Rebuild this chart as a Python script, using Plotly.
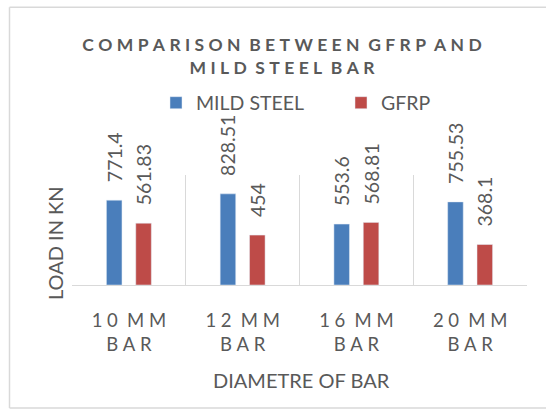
import plotly.graph_objects as go

# Load at failure (kN) for each bar diameter
categories = ["10 MM BAR", "12 MM BAR", "16 MM BAR", "20 MM BAR"]
mild_steel = [771.4, 828.51, 553.6, 755.53]
gfrp = [561.83, 454, 568.81, 368.1]
tick_lines = [("10 MM", "BAR"), ("12 MM", "BAR"), ("16 MM", "BAR"), ("20 MM", "BAR")]

title_lines = ["COMPARISON BETWEEN GFRP AND", "MILD STEEL BAR"]
x_title = "DIAMETRE OF BAR"
y_title = "LOAD IN KN"

FONT = "Lato"
GREY = "#595959"
BLUE = "#4A7EBB"
RED = "#BE4B48"
FRAME = "#D9D9D9"

W, H = 546, 410
ML, MR, MT, MB = 72, 19, 175, 125
PW, PH = W - ML - MR, H - MT - MB


def spaced(s, gap):
    """Widen letter spacing by putting a narrow space between glyphs."""
    words = s.split(" ")
    return (gap + " ").join(gap.join(w) for w in words)


def px_x(p):
    return (p - ML) / PW


def px_y(p):
    return (H - MB - p) / PH


pad = "\u00a0" * 3
label_font = dict(family=FONT, size=19.5, color=GREY)

fig = go.Figure()
fig.add_trace(go.Bar(
    name="MILD STEEL", x=categories, y=mild_steel, marker_color=BLUE,
    text=[pad + str(v) for v in mild_steel], textposition="outside",
    textangle=-90, constraintext="none", cliponaxis=False, textfont=label_font,
))
fig.add_trace(go.Bar(
    name="GFRP", x=categories, y=gfrp, marker_color=RED,
    text=[pad + str(v) for v in gfrp], textposition="outside",
    textangle=-90, constraintext="none", cliponaxis=False, textfont=label_font,
))

# chart frame: left, top and bottom edges
frame = [
    (9.5, 7.3, 9.5, 408),
    (9.5, 7.3, 600, 7.3),
    (9.5, 408, 600, 408),
]

fig.update_layout(
    width=W, height=H,
    margin=dict(l=ML, r=MR, t=MT, b=MB, pad=0),
    paper_bgcolor="white", plot_bgcolor="white",
    font=dict(family=FONT, color=GREY),
    barmode="group", bargap=0.484, bargroupgap=0.47,
    title=dict(
        text="<br>".join(spaced(t, "\u2005") for t in title_lines),
        x=282 / W, xanchor="center", xref="container",
        y=1 - 51 / H, yanchor="middle", yref="container",
        font=dict(family=FONT, size=17.5, color=GREY, weight="bold"),
    ),
    legend=dict(
        orientation="h", x=px_x(156), xanchor="left",
        y=px_y(103), yanchor="middle",
        font=dict(family=FONT, size=19.5, color=GREY),
        entrywidth=140, itemclick=False, bgcolor="rgba(0,0,0,0)",
    ),
    xaxis=dict(
        type="category", tickson="boundaries", showgrid=True,
        gridcolor=FRAME, gridwidth=1, showline=True, linecolor=FRAME,
        ticks="", tickvals=categories,
        ticktext=["<br>".join(spaced(s, "\u2005") for s in pair) for pair in tick_lines],
        tickfont=dict(family=FONT, size=18.5, color=GREY),
        ticklabelstandoff=19,
    ),
    yaxis=dict(range=[0, 1000], visible=False, showgrid=False),
    annotations=[
        dict(text=x_title, xref="paper", yref="paper", x=px_x(301), y=px_y(380),
             xanchor="center", yanchor="middle", showarrow=False,
             font=dict(family=FONT, size=20, color=GREY)),
        dict(text=y_title, xref="paper", yref="paper", x=px_x(55), y=px_y(243),
             xanchor="center", yanchor="middle", showarrow=False, textangle=-90,
             font=dict(family=FONT, size=20, color=GREY)),
    ],
    shapes=[
        dict(type="line", xref="paper", yref="paper",
             x0=px_x(a), y0=px_y(b), x1=px_x(c), y1=px_y(d),
             line=dict(color=FRAME, width=1.5), layer="below")
        for a, b, c, d in frame
    ],
)

fig.write_html("out.html")
